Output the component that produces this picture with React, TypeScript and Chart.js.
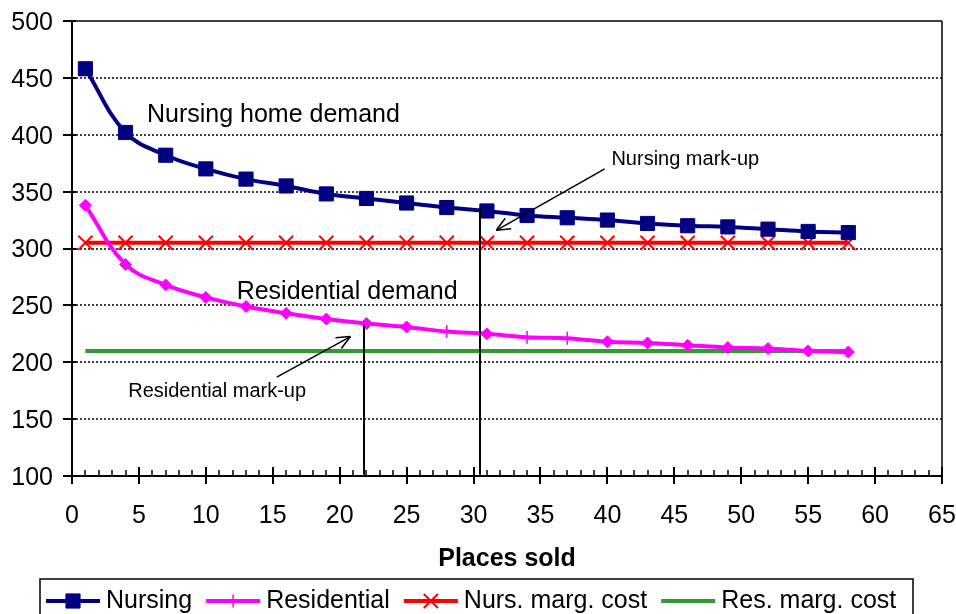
import { useEffect, useRef } from 'react';
import { Chart, registerables } from 'chart.js';
import { drawPoint } from 'chart.js/helpers';

Chart.register(...registerables);

// Places sold (x) at which each demand / cost point is plotted
const placesSold = [1, 4, 7, 10, 13, 16, 19, 22, 25, 28, 31, 34, 37, 40, 43, 46, 49, 52, 55, 58];

// Price series
const nursingDemand = [458, 402, 382, 370, 361, 355, 348, 344, 340, 336, 333, 329, 327, 325, 322, 320, 319, 317, 315, 314];
const residentialDemand = [338, 286, 268, 257, 249, 243, 238, 234, 231, 227, 225, 222, 221, 218, 217, 215, 213, 212, 210, 209];
const nursingMarginalCost = [305, 305, 305, 305, 305, 305, 305, 305, 305, 305, 305, 305, 305, 305, 305, 305, 305, 305, 305, 305];
const residentialMarginalCost = [210, 210, 210, 210, 210, 210, 210, 210, 210, 210, 210, 210, 210, 210, 210, 210, 210, 210, 210, 210];

// Marker shape for each residential point
const residentialMarkers = [
  'rectRot', 'rectRot', 'rectRot', 'rectRot', 'rectRot', 'rectRot', 'rectRot', 'rectRot', 'rectRot', 'cross',
  'rectRot', 'cross', 'cross', 'rectRot', 'rectRot', 'rectRot', 'rectRot', 'rectRot', 'rectRot', 'rectRot',
];

const seriesNames = ['Nursing', 'Residential', 'Nurs. marg. cost', 'Res. marg. cost'];

// Axis ranges
const xRange = [0, 65, 5];
const yRange = [100, 500, 50];

const FONT = "'Liberation Sans', Arial, Helvetica, sans-serif";
const NAVY = '#000080';
const MAGENTA = '#FF00FF';
const RED = '#FF0000';
const GREEN = '#339933';

// Mark-up guides, in data coordinates
const markupDrops = [
  { x: 21.8, top: 233 },
  { x: 30.5, top: 336 },
];
const markupArrows = [
  { from: [39.8, 370], to: [31.7, 316] },
  { from: [15.3, 187], to: [20.8, 222.6] },
];
const curveLabels = [
  { text: 'Nursing home demand', x: 5.6, y: 417, size: 25 },
  { text: 'Residential demand', x: 12.3, y: 262, size: 25 },
  { text: 'Nursing mark-up', x: 40.3, y: 378, size: 20 },
  { text: 'Residential mark-up', x: 4.2, y: 174, size: 20 },
];

const legendMarkers: Record<string, any> = {
  Nursing: { pointStyle: 'rect', radius: 10, borderWidth: 1, color: NAVY },
  Residential: { pointStyle: 'cross', radius: 6.5, borderWidth: 1.5, color: MAGENTA },
  'Nurs. marg. cost': { pointStyle: 'crossRot', radius: 10, borderWidth: 2, color: RED },
  'Res. marg. cost': null,
};

function seg(ctx: CanvasRenderingContext2D, x1: number, y1: number, x2: number, y2: number) {
  ctx.beginPath();
  ctx.moveTo(x1, y1);
  ctx.lineTo(x2, y2);
  ctx.stroke();
}

// Dotted gridlines, plot border, axis lines and tick marks
const framePlugin = {
  id: 'plotFrame',
  beforeDatasetsDraw(chart: any) {
    const { ctx, chartArea: a } = chart;
    const x = chart.scales.x;
    const y = chart.scales.y;
    ctx.save();
    ctx.strokeStyle = '#000';
    ctx.lineWidth = 1.5;
    ctx.setLineDash([2, 2]);
    y.ticks.forEach((t: any) => {
      if (t.value > y.min && t.value < y.max) {
        const py = Math.round(y.getPixelForValue(t.value));
        seg(ctx, a.left, py, a.right, py);
      }
    });
    ctx.setLineDash([]);
    ctx.lineWidth = 1.5;
    seg(ctx, a.left, a.top, a.right, a.top);
    seg(ctx, a.right, a.top, a.right, a.bottom);
    ctx.lineWidth = 2;
    seg(ctx, a.left, a.top, a.left, a.bottom + 1);
    seg(ctx, a.left - 1, a.bottom, a.right + 1, a.bottom);
    ctx.lineWidth = 2;
    y.ticks.forEach((t: any) => {
      const py = Math.round(y.getPixelForValue(t.value));
      seg(ctx, a.left - 9, py, a.left + 4, py);
    });
    x.ticks.forEach((t: any) => {
      const px = Math.round(x.getPixelForValue(t.value));
      seg(ctx, px, a.bottom - 9, px, a.bottom + 8);
    });
    ctx.lineWidth = 1.5;
    for (let v = x.min + 1; v < x.max; v++) {
      if (v % xRange[2] === 0) continue;
      const px = Math.round(x.getPixelForValue(v));
      seg(ctx, px, a.bottom - 6, px, a.bottom);
    }
    ctx.restore();
  },
};

// Mark-up drop lines, arrows and curve captions
const annotationPlugin = {
  id: 'markupNotes',
  afterDatasetsDraw(chart: any) {
    const { ctx } = chart;
    const x = chart.scales.x;
    const y = chart.scales.y;
    ctx.save();
    ctx.strokeStyle = '#000';
    ctx.lineWidth = 2;
    markupDrops.forEach((d) => {
      const px = Math.round(x.getPixelForValue(d.x));
      seg(ctx, px, y.getPixelForValue(d.top), px, y.getPixelForValue(101));
    });
    ctx.lineWidth = 1.5;
    markupArrows.forEach((ar) => {
      const x1 = x.getPixelForValue(ar.from[0]);
      const y1 = y.getPixelForValue(ar.from[1]);
      const x2 = x.getPixelForValue(ar.to[0]);
      const y2 = y.getPixelForValue(ar.to[1]);
      seg(ctx, x1, y1, x2, y2);
      const ang = Math.atan2(y1 - y2, x1 - x2);
      const head = 15;
      const spread = 0.42;
      seg(ctx, x2, y2, x2 + head * Math.cos(ang + spread), y2 + head * Math.sin(ang + spread));
      seg(ctx, x2, y2, x2 + head * Math.cos(ang - spread), y2 + head * Math.sin(ang - spread));
    });
    ctx.fillStyle = '#000';
    ctx.textAlign = 'left';
    ctx.textBaseline = 'middle';
    curveLabels.forEach((l) => {
      ctx.font = `${l.size}px ${FONT}`;
      ctx.fillText(l.text, x.getPixelForValue(l.x), y.getPixelForValue(l.y));
    });
    ctx.restore();
  },
};

// Boxed legend with line samples beneath the axis title
const legendPlugin = {
  id: 'boxedLegend',
  afterDraw(chart: any) {
    const { ctx } = chart;
    const box = { left: 40, top: 579, right: 913, bottom: 622 };
    const cy = 601;
    const sample = 54;
    ctx.save();
    ctx.strokeStyle = '#000';
    ctx.lineWidth = 1.5;
    ctx.strokeRect(box.left, box.top, box.right - box.left, box.bottom - box.top);
    ctx.font = `25px ${FONT}`;
    ctx.textBaseline = 'middle';
    ctx.textAlign = 'left';
    let cx = box.left + 6;
    chart.data.datasets.forEach((ds: any) => {
      ctx.strokeStyle = ds.borderColor;
      ctx.lineWidth = ds.borderWidth;
      seg(ctx, cx, cy, cx + sample, cy);
      const m = legendMarkers[ds.label];
      if (m) {
        ctx.fillStyle = m.color;
        ctx.strokeStyle = m.color;
        ctx.lineWidth = m.borderWidth;
        drawPoint(ctx, { pointStyle: m.pointStyle, radius: m.radius, rotation: 0, borderWidth: m.borderWidth } as any, cx + sample / 2, cy);
      }
      ctx.fillStyle = '#000';
      ctx.fillText(ds.label, cx + sample + 6, cy);
      cx += sample + 6 + ctx.measureText(ds.label).width + 14;
    });
    ctx.restore();
  },
};

function points(values: number[]) {
  return placesSold.map((p, i) => ({ x: p, y: values[i] }));
}

export default function App() {
  const canvasRef = useRef<HTMLCanvasElement | null>(null);

  useEffect(() => {
    if (!canvasRef.current) return;
    Chart.defaults.font.family = FONT;
    Chart.defaults.color = '#000';
    const chart = new Chart(canvasRef.current, {
      type: 'line',
      data: {
        datasets: [
          {
            label: seriesNames[0],
            data: points(nursingDemand),
            borderColor: NAVY,
            backgroundColor: NAVY,
            borderWidth: 4,
            tension: 0.4,
            pointStyle: 'rect',
            pointRadius: 10,
            pointBorderWidth: 1,
            pointBackgroundColor: NAVY,
            pointBorderColor: NAVY,
          },
          {
            label: seriesNames[1],
            data: points(residentialDemand),
            borderColor: MAGENTA,
            backgroundColor: MAGENTA,
            borderWidth: 4,
            tension: 0.4,
            pointStyle: residentialMarkers as any,
            pointRadius: residentialMarkers.map((s) => (s === 'cross' ? 6.5 : 6)),
            pointBorderWidth: residentialMarkers.map((s) => (s === 'cross' ? 1.5 : 1)),
            pointBackgroundColor: MAGENTA,
            pointBorderColor: MAGENTA,
          },
          {
            label: seriesNames[2],
            data: points(nursingMarginalCost),
            borderColor: RED,
            backgroundColor: RED,
            borderWidth: 4,
            tension: 0,
            pointStyle: 'crossRot',
            pointRadius: 10,
            pointBorderWidth: 2,
            pointBorderColor: RED,
          },
          {
            label: seriesNames[3],
            data: points(residentialMarginalCost),
            borderColor: GREEN,
            backgroundColor: GREEN,
            borderWidth: 4,
            tension: 0,
            pointRadius: 0,
          },
        ],
      },
      options: {
        responsive: false,
        animation: false,
        devicePixelRatio: 1,
        layout: { padding: { top: 21, right: 14, bottom: 39, left: 0 } },
        plugins: {
          legend: { display: false },
          title: { display: false },
          tooltip: { enabled: false },
        },
        scales: {
          x: {
            type: 'linear',
            min: xRange[0],
            max: xRange[1],
            grid: { display: false, drawTicks: false },
            border: { display: false },
            ticks: {
              stepSize: xRange[2],
              autoSkip: false,
              maxRotation: 0,
              padding: 25,
              font: { size: 25 },
              color: '#000',
            },
            title: {
              display: true,
              text: 'Places sold',
              font: { size: 25, weight: 'bold' },
              color: '#000',
              padding: { top: 0, bottom: 1 },
            },
            afterFit(scale: any) {
              scale.height = 99;
              scale.paddingLeft = 0;
              scale.paddingRight = 0;
            },
          },
          y: {
            min: yRange[0],
            max: yRange[1],
            grid: { display: false, drawTicks: false },
            border: { display: false },
            ticks: {
              stepSize: yRange[2],
              padding: 19,
              labelOffset: 2,
              font: { size: 25 },
              color: '#000',
            },
            afterFit(scale: any) {
              scale.width = 72;
              scale.paddingTop = 0;
              scale.paddingBottom = 0;
            },
          },
        },
      },
      plugins: [framePlugin, annotationPlugin, legendPlugin],
    });
    return () => chart.destroy();
  }, []);

  return (
    <div style={{ position: 'fixed', left: 0, top: 0, width: 956, height: 614, background: '#fff' }}>
      <canvas ref={canvasRef} width={956} height={614} />
    </div>
  );
}
